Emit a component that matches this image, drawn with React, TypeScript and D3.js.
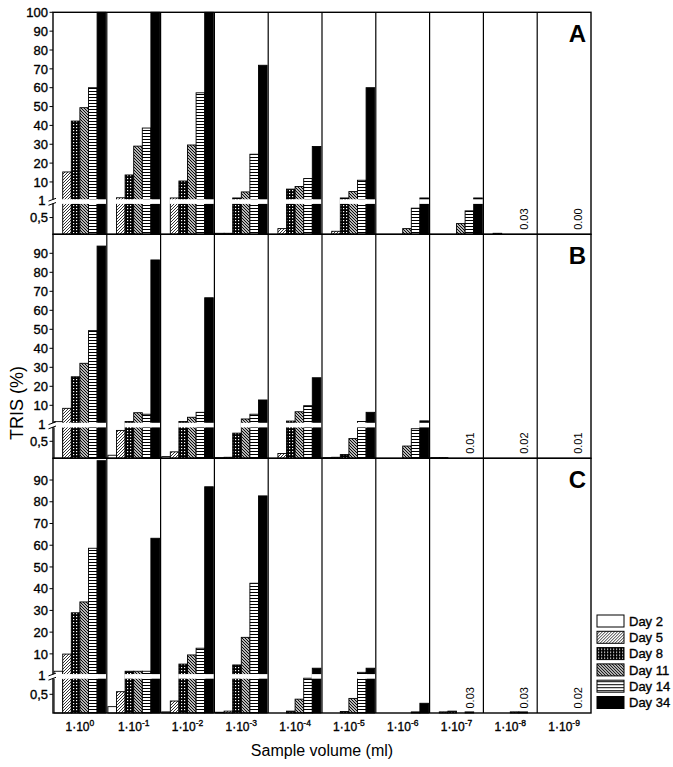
import * as d3 from 'd3';

const EXPONENTS = ['0', '-1', '-2', '-3', '-4', '-5', '-6', '-7', '-8', '-9'];
const DAYS = ['Day 2', 'Day 5', 'Day 8', 'Day 11', 'Day 14', 'Day 34'];
const FILLS = ['#fff', 'url(#p5)', 'url(#p8)', 'url(#p11)', 'url(#p14)', '#000'];

// TRIS (%) — rows are days, columns are sample volumes 1·10^0 … 1·10^-9
const panelA = [
  [0, 0, 0, 0.03, 0, 0, 0, 0, 0, 0],
  [15.3, 1.6, 1.5, 0.03, 0.17, 0.09, 0, 0, 0.03, 0],
  [42.3, 13.7, 10.5, 1.5, 6.2, 1.5, 0, 0, 0, 0],
  [49.4, 29, 29.6, 4.7, 7.6, 4.9, 0.17, 0.32, 0, 0],
  [60, 38.6, 57.3, 24.7, 11.8, 10.9, 0.78, 0.7, 0, 0],
  [100, 100, 100, 71.9, 28.8, 60, 1.5, 1.5, 0, 0],
];
const panelB = [
  [1.4, 0.09, 0.05, 0.02, 0, 0.02, 0, 0.02, 0, 0],
  [8.4, 0.82, 0.19, 0.03, 0.14, 0.03, 0, 0.02, 0, 0],
  [25, 1.5, 1.5, 0.74, 1.7, 0.11, 0, 0, 0, 0],
  [32.1, 6.1, 3.7, 2.8, 6.6, 0.58, 0.36, 0, 0, 0],
  [49.3, 5.3, 6.3, 5.3, 9.8, 1.5, 0.87, 0, 0, 0],
  [93.8, 86.5, 66.6, 12.8, 24.5, 6.3, 1.8, 0, 0, 0],
];
const panelC = [
  [2, 0.17, 0.03, 0.02, 0, 0, 0, 0, 0, 0],
  [9.9, 0.57, 0.32, 0.05, 0, 0, 0, 0.03, 0, 0],
  [28.9, 2, 5.3, 4.9, 0.05, 0.04, 0, 0.05, 0, 0],
  [33.9, 2, 9.5, 17.6, 0.37, 0.39, 0, 0, 0.03, 0],
  [58.6, 2, 12.6, 42.5, 0.93, 1.5, 0.03, 0.03, 0.03, 0],
  [98.9, 63.2, 86.9, 82.7, 3.4, 3.4, 0.26, 0, 0, 0],
];
const notesA = ['', '', '', '', '', '', '', '', '0.03', '0.00'];
const notesB = ['', '', '', '', '', '', '', '0.01', '0.02', '0.01'];
const notesC = ['', '', '', '', '', '', '', '0.03', '0.03', '0.02'];

const TICKS_A = [10, 20, 30, 40, 50, 60, 70, 80, 90, 100];
const TICKS_BC = [10, 20, 30, 40, 50, 60, 70, 80, 90];

const W = 673, H = 767;
const LEFT = 53, RIGHT = 591;
const FONT = '"Liberation Sans", Arial, Helvetica, sans-serif';
const NARROW = '"Liberation Sans Narrow", "Arial Narrow", "Liberation Sans", sans-serif';
// scanned print looks a little heavier than plain regular
const heavy = { stroke: '#000', strokeWidth: 0.35 };

const PANELS = [
  { name: 'A', data: panelA, notes: notesA, ticks: TICKS_A, top: 12.3, bottom: 234.3, lower: 33.5 },
  { name: 'B', data: panelB, notes: notesB, ticks: TICKS_BC, top: 234.3, bottom: 458.3, lower: 34 },
  { name: 'C', data: panelC, notes: notesC, ticks: TICKS_BC, top: 458.3, bottom: 713, lower: 37.4 },
];

const xG = d3.scaleBand().domain(EXPONENTS).range([LEFT, RIGHT]).paddingInner(0).paddingOuter(0);
const xD = d3.scaleBand().domain(DAYS).range([0, xG.bandwidth()]).paddingInner(0).paddingOuter(0.13);
const bw = xD.bandwidth();

function Panel({ p }) {
  const brk = p.bottom - p.lower;
  const yUp = d3.scaleLinear().domain([0, 100]).range([brk, p.top]);
  const yLow = d3.scaleLinear().domain([0, 1]).range([p.bottom, brk]);
  const yOf = (v) => (v > 1 ? yUp(v) : yLow(v));

  const bars = [];
  const bands = [];
  p.data.forEach((row, i) => {
    row.forEach((v, j) => {
      if (v <= 0) return;
      const x = xG(EXPONENTS[j]) + xD(DAYS[i]);
      const y = yOf(v);
      bars.push(
        <rect key={`b${i}-${j}`} x={x} y={y} width={bw} height={p.bottom - y}
          fill={FILLS[i]} stroke="#000" strokeWidth={0.9} />
      );
      if (v > 1) {
        bands.push(
          <rect key={`w${i}-${j}`} x={x - 0.7} y={brk - 1.5} width={bw + 1.4} height={4.6} fill="#fff" />
        );
      }
    });
  });

  return (
    <g>
      {bars}
      {bands}
      {EXPONENTS.slice(1).map((e) => (
        <line key={e} x1={xG(e)} x2={xG(e)} y1={p.top} y2={p.bottom} stroke="#000" strokeWidth={1.2} />
      ))}
      <rect x={LEFT} y={p.top} width={RIGHT - LEFT} height={p.bottom - p.top} fill="none" stroke="#000" strokeWidth={1.4} />

      {/* y axis ticks */}
      {p.ticks.map((t) => (
        <g key={t}>
          <line x1={49.5} x2={LEFT} y1={yUp(t)} y2={yUp(t)} stroke="#000" strokeWidth={1} />
          <text x={48} y={yUp(t)} dy="0.36em" textAnchor="end" fontSize={13} fontFamily={FONT} {...heavy}>{t}</text>
        </g>
      ))}
      <line x1={49.5} x2={LEFT} y1={yLow(0.5)} y2={yLow(0.5)} stroke="#000" strokeWidth={1} />
      <text x={48} y={yLow(0.5)} dy="0.36em" textAnchor="end" fontSize={13} fontFamily={FONT} {...heavy}>0,5</text>
      <text x={45.5} y={brk} dy="0.36em" textAnchor="end" fontSize={13} fontFamily={FONT} {...heavy}>1</text>

      {/* axis break */}
      <rect x={48} y={brk - 1.3} width={9} height={4} fill="#fff" />
      <path d={`M48.5,${brk + 0.3} L56,${brk - 2.5} M48.5,${brk + 4.5} L56,${brk + 1.7}`} stroke="#000" strokeWidth={1} fill="none" />

      {/* small value notes */}
      {p.notes.map((n, j) => n && (
        <text key={`n${j}`} fontSize={11} fontFamily={FONT}
          transform={`translate(${xG(EXPONENTS[j]) + xD('Day 14') + bw / 2 + 1},${p.bottom - 4.5}) rotate(-90)`}
          dy="0.36em">{n}</text>
      ))}

      <text x={586} y={p.top + 30} textAnchor="end" fontSize={24} fontWeight="bold" fontFamily={FONT}>{p.name}</text>
    </g>
  );
}

export default function App() {
  const lastBottom = PANELS[PANELS.length - 1].bottom;
  return (
    <svg width={W} height={H} style={{ position: 'absolute', left: 0, top: 0, background: '#fff' }}>
      <defs>
        <pattern id="p5" patternUnits="userSpaceOnUse" width={3} height={3}>
          <rect width={3} height={3} fill="#fff" />
          <path d="M-1,1 L1,-1 M0,3 L3,0 M2,4 L4,2" stroke="#000" strokeWidth={0.8} />
        </pattern>
        <pattern id="p8" patternUnits="userSpaceOnUse" width={3} height={3}>
          <rect width={3} height={3} fill="#000" />
          <rect x={1} y={1} width={1.2} height={1.2} fill="#fff" />
        </pattern>
        <pattern id="p11" patternUnits="userSpaceOnUse" width={3} height={3}>
          <rect width={3} height={3} fill="#fff" />
          <path d="M0,0 L3,3 M-1,2 L1,4 M2,-1 L4,1" stroke="#000" strokeWidth={1.1} />
        </pattern>
        <pattern id="p14" patternUnits="userSpaceOnUse" width={3} height={3}>
          <rect width={3} height={3} fill="#fff" />
          <line x1={0} x2={3} y1={1.5} y2={1.5} stroke="#000" strokeWidth={1} />
        </pattern>
      </defs>

      {PANELS.map((p) => <Panel key={p.name} p={p} />)}

      {/* x tick labels */}
      {EXPONENTS.map((e) => (
        <text key={e} x={xG(e) + xG.bandwidth() / 2} y={lastBottom + 17.5} textAnchor="middle"
          fontSize={12} fontFamily={NARROW} {...heavy}>
          1·10<tspan dy={-4.5} fontSize={8.5}>{e}</tspan>
        </text>
      ))}

      <text x={(LEFT + RIGHT) / 2} y={756} textAnchor="middle" fontSize={16} fontFamily={FONT}>Sample volume (ml)</text>
      <text transform="translate(17,403) rotate(-90)" textAnchor="middle" dy="0.36em" fontSize={18} fontFamily={FONT}>TRIS (%)</text>

      {/* legend */}
      {DAYS.map((d, i) => (
        <g key={d} transform={`translate(597,${615 + i * 16.3})`}>
          <rect width={27} height={12} fill={FILLS[i]} stroke="#000" strokeWidth={1} />
          <text x={32} y={6} dy="0.36em" fontSize={13} fontFamily={NARROW} {...heavy}>{d}</text>
        </g>
      ))}
    </svg>
  );
}
